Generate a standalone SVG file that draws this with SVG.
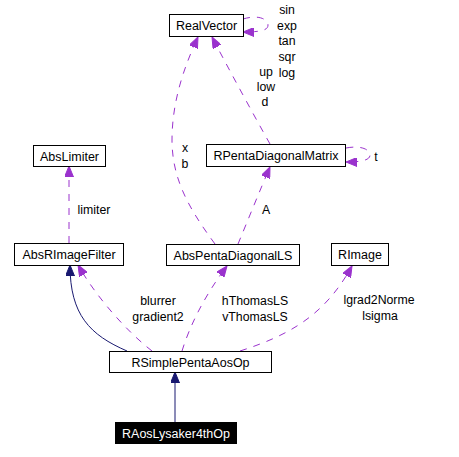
<svg xmlns="http://www.w3.org/2000/svg" width="459" height="457" viewBox="0 0 459 457">
<style>
text{font-family:"Liberation Sans",Arial,sans-serif;font-size:12.5px;fill:#000}
.n rect{fill:#fff;stroke:#000;stroke-width:1}
.n text{text-anchor:middle}
.inv rect{fill:#000}
.inv text{fill:#fff}
.e{fill:none;stroke-width:1}
.u{stroke:#9a32cd;stroke-dasharray:7,7}
.b{stroke:#191970}
.lbl{text-anchor:middle;font-size:12.3px}
</style>
<defs>
<marker id="ap" markerUnits="userSpaceOnUse" viewBox="0 0 11 9" markerWidth="11" markerHeight="9" refX="11" refY="4.5" orient="auto"><polygon points="0,0 11,4.5 0,9" fill="#9a32cd" stroke="#9a32cd"/></marker>
<marker id="ab" markerUnits="userSpaceOnUse" viewBox="0 0 11 9" markerWidth="11" markerHeight="9" refX="11" refY="4.5" orient="auto"><polygon points="0,0 11,4.5 0,9" fill="#191970" stroke="#191970"/></marker>
</defs>
<g id="edges">
<path class="e b" d="M175,422 L175,372" marker-end="url(#ab)"/>
<path class="e b" d="M127,351 C90,335 70,315 70,265" marker-end="url(#ab)"/>
<path class="e u" d="M152,351 C125,330 95,295 78,265" marker-end="url(#ap)"/>
<path class="e u" d="M182,351 C190,325 205,295 227,266" marker-end="url(#ap)"/>
<path class="e u" d="M240,351 C290,335 325,315 352,266" marker-end="url(#ap)"/>
<path class="e u" d="M69,243 L69,166" marker-end="url(#ap)"/>
<path class="e u" d="M238,244 C248,220 260,190 270,167" marker-end="url(#ap)"/>
<path class="e u" d="M215,244 C190,210 172,180 172,140 C172,100 185,65 198,37" marker-end="url(#ap)"/>
<path class="e u" d="M270,144 C252,112 225,62 212,37" marker-end="url(#ap)"/>
<path class="e u" d="M243,19 C260,14 268,20 268,25 C268,30 262,32 243,32" marker-end="url(#ap)"/>
<path class="e u" d="M346,148 C362,145 370,150 370,155 C370,160 362,162 346,162" marker-end="url(#ap)"/>
<text class="lbl" x="287" y="14">sin</text>
<text class="lbl" x="287" y="30">exp</text>
<text class="lbl" x="287" y="45">tan</text>
<text class="lbl" x="287" y="61">sqr</text>
<text class="lbl" x="287" y="77">log</text>
<text class="lbl" x="266" y="76">up</text>
<text class="lbl" x="266" y="91">low</text>
<text class="lbl" x="265" y="106">d</text>
<text class="lbl" x="185" y="152">x</text>
<text class="lbl" x="185" y="168">b</text>
<text class="lbl" x="376" y="161">t</text>
<text class="lbl" x="266" y="214">A</text>
<text class="lbl" x="94" y="214">limiter</text>
<text class="lbl" x="158" y="305">blurrer</text>
<text class="lbl" x="158" y="321">gradient2</text>
<text class="lbl" x="255" y="305">hThomasLS</text>
<text class="lbl" x="255" y="321">vThomasLS</text>
<text class="lbl" x="379" y="304">lgrad2Norme</text>
<text class="lbl" x="380" y="320">lsigma</text>
</g>
<g id="RealVector" class="n"><rect x="169.5" y="14.5" width="74" height="22"/><text x="206.5" y="30">RealVector</text></g>
<g id="RPentaDiagonalMatrix" class="n"><rect x="206.5" y="144.5" width="139" height="22"/><text x="276" y="160">RPentaDiagonalMatrix</text></g>
<g id="AbsLimiter" class="n"><rect x="33.5" y="145.5" width="72" height="21"/><text x="69.5" y="160.5">AbsLimiter</text></g>
<g id="AbsRImageFilter" class="n"><rect x="14.5" y="243.5" width="109" height="22"/><text x="69" y="259">AbsRImageFilter</text></g>
<g id="AbsPentaDiagonalLS" class="n"><rect x="166.5" y="244.5" width="133" height="21"/><text x="233" y="259.5">AbsPentaDiagonalLS</text></g>
<g id="RImage" class="n"><rect x="331.5" y="243.5" width="57" height="22"/><text x="360" y="259">RImage</text></g>
<g id="RSimplePentaAosOp" class="n"><rect x="109.5" y="351.5" width="162" height="21"/><text x="190.5" y="366.5">RSimplePentaAosOp</text></g>
<g id="RAosLysaker4thOp" class="n inv"><rect x="115.5" y="422.5" width="121" height="21"/><text x="176" y="437.5">RAosLysaker4thOp</text></g>
</svg>
